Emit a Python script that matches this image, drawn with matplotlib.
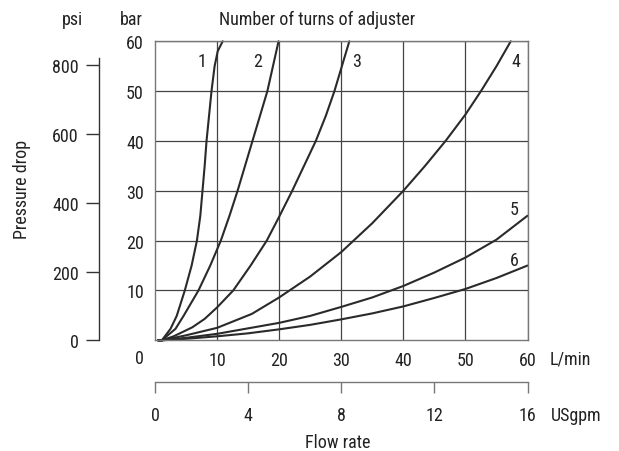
import matplotlib
matplotlib.use("Agg")
import matplotlib.pyplot as plt
from matplotlib import font_manager

# ---------------- data ----------------
lpm_ticks = [10, 20, 30, 40, 50, 60]
bar_ticks = [10, 20, 30, 40, 50, 60]
psi_ticks = [0, 200, 400, 600, 800]
gpm_ticks = [0, 4, 8, 12, 16]

c1_q = [0.5, 1.1, 2.5, 3.5, 4.8, 5.9, 6.75, 7.3, 7.65, 8.0, 8.3, 8.7, 9.1, 9.6, 10.1, 10.9]
c1_p = [0.0, 0.0, 2.3, 4.9, 10.0, 15.0, 20.0, 25.0, 30.0, 35.0, 40.0, 45.0, 50.0, 55.0, 58.0, 60.0]
c2_q = [0.5, 1.1, 3.3, 4.6, 7.0, 8.9, 10.6, 12.0, 13.3, 14.5, 15.7, 16.9, 18.1, 19.0, 19.9]
c2_p = [0.0, 0.0, 2.3, 4.9, 10.0, 15.0, 20.0, 25.0, 30.0, 35.0, 40.0, 45.0, 50.0, 55.0, 60.0]
c3_q = [0.5, 1.1, 3.0, 6.0, 8.0, 10.0, 12.6, 15.4, 18.0, 20.0, 22.1, 24.0, 25.9, 27.5, 28.9, 30.1, 31.3]
c3_p = [0.0, 0.0, 0.8, 2.6, 4.3, 6.6, 10.0, 15.0, 20.0, 24.8, 30.0, 35.0, 40.0, 45.0, 50.0, 55.0, 60.0]
c4_q = [0.5, 1.1, 5, 10, 15.6, 20, 25, 30, 35, 40, 43.5, 46.8, 50, 52.5, 55, 57.3]
c4_p = [0.0, 0.0, 1.0, 2.5, 5.3, 8.6, 12.8, 17.7, 23.5, 30.0, 35.0, 40.0, 45.3, 50.0, 55.0, 60.0]
c5_q = [0.5, 1.1, 5, 10, 15, 20, 25, 30, 35, 40, 45, 50, 55, 60]
c5_p = [0.0, 0.0, 0.5, 1.3, 2.4, 3.5, 4.9, 6.7, 8.6, 10.9, 13.6, 16.6, 20.2, 25.0]
c6_q = [0.5, 1.1, 5, 10, 15, 20, 25, 30, 35, 40, 45, 50, 55, 60]
c6_p = [0.0, 0.0, 0.3, 0.8, 1.4, 2.2, 3.1, 4.2, 5.4, 6.8, 8.5, 10.3, 12.5, 15.0]

curve_labels = ["1", "2", "3", "4", "5", "6"]
label_q = [7.5, 16.6, 32.4, 58.1, 57.9, 57.9]
label_p = [56.0, 56.0, 56.0, 56.0, 26.3, 16.1]

PSI_PER_BAR = 14.5038
LPM_PER_GPM = 3.78541

# ---------------- style ----------------
names = {f.name for f in font_manager.fontManager.ttflist}
FONT = "Roboto Condensed" if "Roboto Condensed" in names else "DejaVu Sans"
plt.rcParams["font.family"] = [FONT, "DejaVu Sans"]
FS = 13
TXT = "#222222"
GRID = "#444444"
FRAME = "#777777"
CURVE = "#2a2a2a"

W, H = 619, 452
fig = plt.figure(figsize=(W / 100, H / 100), dpi=100)

def fx(px):
    return px / W

def fy(py):
    return 1 - py / H

x0, x1 = 155, 527.5
y0, y1 = 341.3, 42.3
ax = fig.add_axes([fx(x0), fy(y0), fx(x1) - fx(x0), fy(y1) - fy(y0)])
ax.set_xlim(0, 60)
ax.set_ylim(0, 60)

for s in ax.spines.values():
    s.set_color(FRAME)
    s.set_linewidth(1.0)

ax.set_xticks(lpm_ticks)
ax.set_yticks(bar_ticks)
ax.tick_params(length=0, labelsize=FS, colors=TXT, pad=8)
ax.grid(True, color=GRID, linewidth=0.9)
ax.set_axisbelow(True)

for q, p in [(c1_q, c1_p), (c2_q, c2_p), (c3_q, c3_p), (c4_q, c4_p), (c5_q, c5_p), (c6_q, c6_p)]:
    ax.plot(q, p, color=CURVE, lw=1.5, solid_capstyle="round", solid_joinstyle="round", clip_on=False)

for lab, q, p in zip(curve_labels, label_q, label_p):
    ax.text(q, p, lab, fontsize=FS, color=TXT, ha="center", va="center")

ax.annotate("0", xy=(0, 0), xycoords="data", xytext=(-11, -13), textcoords="offset points",
            ha="center", va="center", fontsize=FS, color=TXT, annotation_clip=False)
ax.annotate("L/min", xy=(1, 0), xycoords="axes fraction", xytext=(16, -13), textcoords="offset points",
            ha="left", va="center", fontsize=FS, color=TXT, annotation_clip=False)

# ---------------- psi axis ----------------
psi_x = 99
axp = fig.add_axes([fx(psi_x), fy(y0), 0.001, fy(y1) - fy(y0)])
axp.set_ylim(0, 60 * PSI_PER_BAR)
axp.patch.set_visible(False)
for k in ["top", "right", "bottom"]:
    axp.spines[k].set_visible(False)
axp.spines["left"].set_color("#333333")
axp.spines["left"].set_linewidth(1.0)
axp.spines["left"].set_bounds(0, 822)
axp.set_xticks([])
axp.set_yticks(psi_ticks)
axp.tick_params(axis="y", direction="out", length=9.5, width=1.0, color="#333333",
                labelsize=FS, labelcolor=TXT, pad=5)

# ---------------- USgpm axis ----------------
gpm_y = 383
axg = fig.add_axes([fx(x0), fy(gpm_y), fx(x1) - fx(x0), 0.001])
axg.set_xlim(0, 60 / LPM_PER_GPM)
axg.patch.set_visible(False)
for k in ["top", "right", "left"]:
    axg.spines[k].set_visible(False)
axg.spines["bottom"].set_color(FRAME)
axg.spines["bottom"].set_linewidth(1.0)
axg.spines["bottom"].set_bounds(0, 16)
axg.set_yticks([])
axg.set_xticks(gpm_ticks)
axg.tick_params(axis="x", direction="out", length=8, width=1.0, color=FRAME,
                labelsize=FS, labelcolor=TXT, pad=9.5)
axg.annotate("USgpm", xy=(1, 0), xycoords="axes fraction", xytext=(17, -24), textcoords="offset points",
             ha="left", va="center", fontsize=FS, color=TXT, annotation_clip=False)

# ---------------- titles ----------------
fig.text(fx(72), fy(20), "psi", ha="center", va="center", fontsize=FS, color=TXT)
fig.text(fx(143), fy(20), "bar", ha="right", va="center", fontsize=FS, color=TXT)
fig.text(fx(219), fy(20), "Number of turns of adjuster", ha="left", va="center", fontsize=FS, color=TXT)
fig.text(fx(22), fy(189), "Pressure drop", ha="center", va="center", rotation=90, fontsize=FS, color=TXT)
fig.text(fx(338), fy(443), "Flow rate", ha="center", va="center", fontsize=FS, color=TXT)

fig.savefig("out.png", dpi=100)
